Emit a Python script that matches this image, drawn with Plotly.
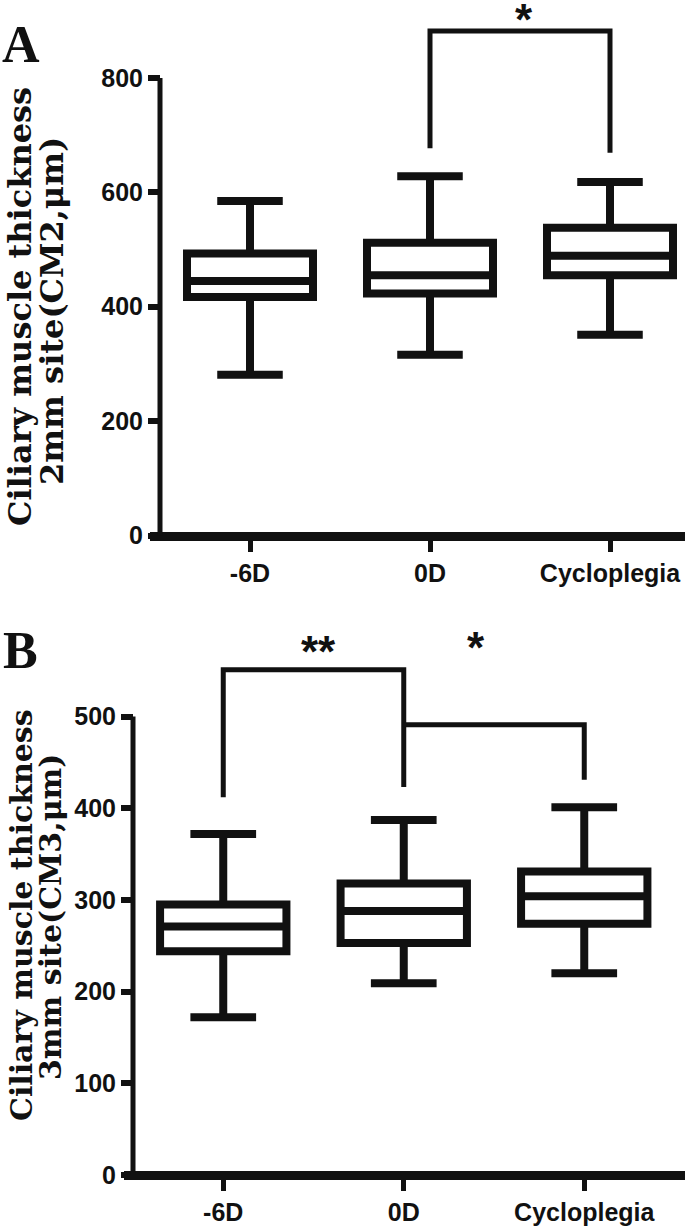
"""
Ciliary muscle thickness at 2mm / 3mm sites under -6D, 0D and cycloplegia
"""

import plotly.graph_objects as go

W, H = 685, 1232
INK = '#111111'
TICK_FONT = 'Liberation Sans, Arial, sans-serif'
SERIF = 'DejaVu Serif, Liberation Serif, serif'

CATEGORIES = ['-6D', '0D', 'Cycloplegia']

# Panel A - CM2 (um)
A_LOWER = [281, 316, 351]
A_Q1 = [417, 423, 455]
A_MEDIAN = [445, 455, 489]
A_Q3 = [493, 512, 538]
A_UPPER = [585, 628, 618]

# Panel B - CM3 (um)
B_LOWER = [172, 209, 220]
B_Q1 = [244, 253, 274]
B_MEDIAN = [271, 288, 304]
B_Q3 = [295, 318, 331]
B_UPPER = [372, 387, 401]

A_TICKS = [0, 200, 400, 600, 800]
B_TICKS = [0, 100, 200, 300, 400, 500]

# significance brackets: x positions (category index) and heights
A_BRACKET_X = [1, 1, 2, 2]
A_BRACKET_Y = [677, 882, 882, 669]
B_BRACKET1_X = [0, 0, 1, 1]
B_BRACKET1_Y = [412, 551, 551, 423]
B_BRACKET2_X = [1, 2, 2]
B_BRACKET2_Y = [491, 491, 431]


def px_x(p):
    return p / W


def px_y(p):
    return 1 - p / H


def add_box(fig, lower, q1, med, q3, upper, xa, ya):
    fig.add_trace(go.Box(
        x=CATEGORIES,
        lowerfence=lower, q1=q1, median=med, q3=q3, upperfence=upper,
        width=0.7,
        whiskerwidth=0.52,
        fillcolor='white',
        line=dict(color=INK, width=8),
        boxpoints=False,
        xaxis=xa, yaxis=ya,
        showlegend=False,
        hoverinfo='skip',
    ))


def add_bracket(fig, xs, ys, xa, ya):
    fig.add_trace(go.Scatter(
        x=[CATEGORIES[i] for i in xs], y=ys,
        mode='lines',
        line=dict(color=INK, width=5),
        xaxis=xa, yaxis=ya,
        showlegend=False,
        hoverinfo='skip',
    ))


fig = go.Figure()

add_box(fig, A_LOWER, A_Q1, A_MEDIAN, A_Q3, A_UPPER, 'x', 'y')
add_bracket(fig, A_BRACKET_X, A_BRACKET_Y, 'x', 'y')

add_box(fig, B_LOWER, B_Q1, B_MEDIAN, B_Q3, B_UPPER, 'x2', 'y2')
add_bracket(fig, B_BRACKET1_X, B_BRACKET1_Y, 'x2', 'y2')
add_bracket(fig, B_BRACKET2_X, B_BRACKET2_Y, 'x2', 'y2')

# pixel geometry of each panel
A_AXIS_X, A_STEP, A_ZERO, A_SCALE = 160, 180, 535.5, 0.572
B_AXIS_X, B_STEP, B_ZERO, B_SCALE = 133, 180.5, 1175, 0.917

xcommon = dict(
    type='category',
    showline=True, linecolor=INK, linewidth=9,
    ticks='outside', ticklen=11, tickwidth=5, tickcolor=INK,
    tickfont=dict(family=TICK_FONT, size=25, color=INK, weight='bold'),
    showgrid=False, zeroline=False, fixedrange=True,
    anchor='free',
)
ycommon = dict(
    showline=False,
    ticks='outside', ticklen=12, tickwidth=6, tickcolor=INK,
    tickfont=dict(family=TICK_FONT, size=25, color=INK, weight='bold'),
    showgrid=False, zeroline=False, fixedrange=True,
    anchor='free',
)

fig.update_layout(
    width=W, height=H,
    margin=dict(l=0, r=0, t=0, b=0),
    paper_bgcolor='white', plot_bgcolor='white',
    showlegend=False,
    xaxis=dict(
        xcommon,
        domain=[px_x(150), 1],
        range=[-0.5 - 10 / A_STEP, -0.5 + (W - A_AXIS_X) / A_STEP],
        position=px_y(A_ZERO),
    ),
    yaxis=dict(
        ycommon,
        domain=[px_y(600), 1],
        range=[-(600 - A_ZERO) / A_SCALE, A_ZERO / A_SCALE],
        tickvals=A_TICKS,
        position=px_x(A_AXIS_X),
    ),
    xaxis2=dict(
        xcommon,
        domain=[px_x(124), 1],
        range=[-0.5 - 9 / B_STEP, -0.5 + (W - B_AXIS_X) / B_STEP],
        position=px_y(B_ZERO),
    ),
    yaxis2=dict(
        ycommon,
        domain=[0, px_y(620)],
        range=[-(H - B_ZERO) / B_SCALE, (B_ZERO - 620) / B_SCALE],
        tickvals=B_TICKS,
        position=px_x(B_AXIS_X),
    ),
)

# vertical axis lines only span the tick range
fig.add_shape(type='line', xref='x', yref='y', x0=-0.5, x1=-0.5, y0=0, y1=A_TICKS[-1],
              line=dict(color=INK, width=5))
fig.add_shape(type='line', xref='x2', yref='y2', x0=-0.5, x1=-0.5, y0=0, y1=B_TICKS[-1],
              line=dict(color=INK, width=5))

# significance stars
star_font = dict(family='Liberation Sans, Arial, sans-serif', size=44, color=INK, weight='bold')
fig.add_annotation(x=1.52, y=913, xref='x', yref='y', text='*', showarrow=False,
                   font=star_font, yanchor='middle', yshift=-6)
fig.add_annotation(x=0.53, y=577, xref='x2', yref='y2', text='**', showarrow=False,
                   font=star_font, yanchor='middle', yshift=-6)
fig.add_annotation(x=1.4, y=582, xref='x2', yref='y2', text='*', showarrow=False,
                   font=star_font, yanchor='middle', yshift=-6)

# panel letters
for letter, cx, cy in [('A', 21, 45), ('B', 20, 650)]:
    fig.add_annotation(x=px_x(cx), y=px_y(cy), xref='paper', yref='paper', text=letter,
                       showarrow=False, xanchor='center', yanchor='middle',
                       font=dict(family='Liberation Serif, Times New Roman, serif', size=52,
                                 color=INK, weight='bold'))

# two-line y axis titles
titles = [
    ('Ciliary muscle thickness', 20, 307, 32),
    ('2mm site(CM2,\u03bcm)', 52, 311, 32),
    ('Ciliary muscle thickness', 21, 915, 30),
    ('3mm site(CM3,\u03bcm)', 51, 917, 30),
]
for text, cx, cy, size in titles:
    fig.add_annotation(x=px_x(cx), y=px_y(cy), xref='paper', yref='paper', text=text,
                       showarrow=False, textangle=-90, xanchor='center', yanchor='middle',
                       font=dict(family=SERIF, size=size, color=INK, weight='bold'))

fig.write_html('out.html', config={'displayModeBar': False},
               post_script="document.body.style.margin='0';")
